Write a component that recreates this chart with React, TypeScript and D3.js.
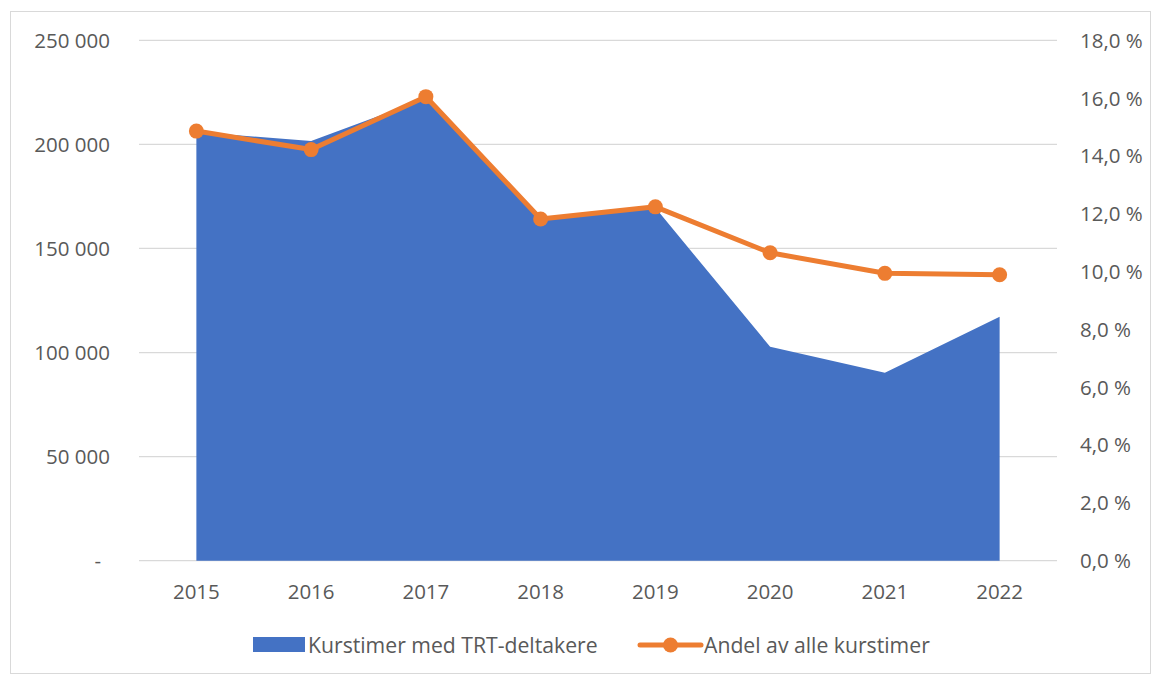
import * as d3 from 'd3';
import React from 'react';

// data
const years = ['2015', '2016', '2017', '2018', '2019', '2020', '2021', '2022'];
const kurstimer = [206000, 201600, 222000, 164000, 169500, 102800, 90300, 117200];
const andel = [14.86, 14.22, 16.05, 11.82, 12.24, 10.65, 9.94, 9.89];
const leftTicks = [0, 50000, 100000, 150000, 200000, 250000];
const rightTicks = [0, 2, 4, 6, 8, 10, 12, 14, 16, 18];

const W = 1155;
const H = 677;
const FONT = '"Open Sans", sans-serif';
const TEXT = '#595959';
const BLUE = '#4472C4';
const ORANGE = '#ED7D31';

const App = () => {
  const x = d3.scaleBand().domain(years).range([139, 1057]);
  const cx = (d: string) => (x(d) as number) + x.bandwidth() / 2;
  const yL = d3.scaleLinear().domain([0, 250000]).range([560.7, 40.3]);
  const yR = d3.scaleLinear().domain([0, 18]).range([560.7, 40.3]);

  const area = d3.area<number>()
    .x((_, i) => cx(years[i]))
    .y0(yL(0))
    .y1(d => yL(d));
  const line = d3.line<number>()
    .x((_, i) => cx(years[i]))
    .y(d => yR(d));

  const fmtLeft = (v: number) => (v === 0 ? '-' : d3.format(',')(v).replace(/,/g, ' '));
  const fmtRight = (v: number) => v.toFixed(1).replace('.', ',') + ' %';

  return (
    <svg width={W} height={H} style={{ position: 'absolute', left: 0, top: 0 }} fontFamily={FONT}>
      <rect x={0} y={0} width={W} height={H} fill="#fff" />
      <rect x={10.5} y={11.5} width={1140} height={662} fill="none" stroke="#d9d9d9" strokeWidth={1} />

      {/* gridlines */}
      {leftTicks.map(t => (
        <line key={t} x1={139} x2={1057} y1={yL(t)} y2={yL(t)} stroke="#d9d9d9" strokeWidth={1.3} />
      ))}

      {/* area */}
      <path d={area(kurstimer) || ''} fill={BLUE} />

      {/* line + markers */}
      <path d={line(andel) || ''} fill="none" stroke={ORANGE} strokeWidth={5} strokeLinejoin="round" />
      {andel.map((v, i) => (
        <circle key={i} cx={cx(years[i])} cy={yR(v)} r={7.5} fill={ORANGE} />
      ))}

      {/* left axis */}
      {leftTicks.map(t => (
        <text key={t} x={t === 0 ? 101 : 110} y={yL(t)} dy="0.36em" textAnchor="end" fontSize={20.5} fill={TEXT}>
          {fmtLeft(t)}
        </text>
      ))}

      {/* right axis */}
      {rightTicks.map(t => (
        <text key={t} x={1080} y={yR(t)} dy="0.36em" textAnchor="start" fontSize={20.5} fill={TEXT}>
          {fmtRight(t)}
        </text>
      ))}

      {/* x axis */}
      {years.map(y => (
        <text key={y} x={cx(y)} y={592} dy="0.36em" textAnchor="middle" fontSize={20.5} fill={TEXT}>
          {y}
        </text>
      ))}

      {/* legend */}
      <rect x={253} y={637} width={52} height={15} fill={BLUE} />
      <text x={308} y={645} dy="0.36em" fontSize={21.2} fill={TEXT}>Kurstimer med TRT-deltakere</text>
      <line x1={640} x2={701} y1={645} y2={645} stroke={ORANGE} strokeWidth={5} strokeLinecap="round" />
      <circle cx={670.5} cy={645} r={7.5} fill={ORANGE} />
      <text x={704} y={645} dy="0.36em" fontSize={21.2} fill={TEXT}>Andel av alle kurstimer</text>
    </svg>
  );
};

export default App;
